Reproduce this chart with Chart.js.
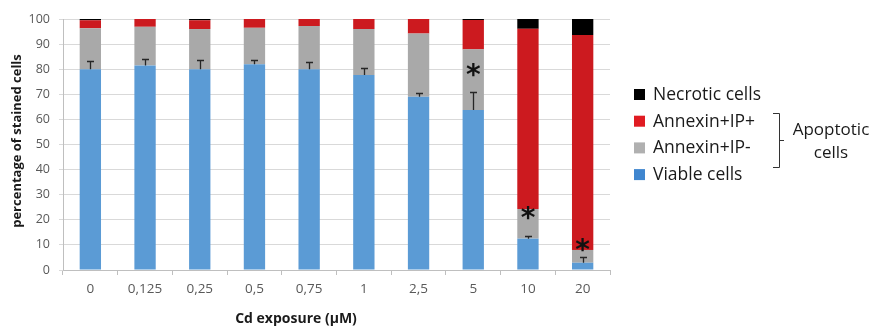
<!DOCTYPE html>
<html>
<head>
  <title>Cd exposure - stained cells</title>
  <script src="https://cdn.jsdelivr.net/npm/chart.js"></script>
  <style>
    body { margin: 0; background: #fff; }
    canvas { display: block; }
  </style>
</head>
<body>
  <canvas id="cellChart" width="873" height="327"></canvas>
  <script>
    // Cd exposure (µM) categories
    const doses = ['0', '0,125', '0,25', '0,5', '0,75', '1', '2,5', '5', '10', '20'];
    // stacked percentages, bottom to top
    const viable     = [80, 81.5, 80, 82, 80, 77.7, 69, 63.7, 12.5, 2.9];
    const annexinNeg = [16.3, 15.4, 16, 14.5, 17.2, 18.3, 25.2, 24.2, 11.8, 5.1];
    const annexinPos = [3.2, 3.1, 3.5, 3.5, 2.8, 4, 5.8, 11.7, 71.8, 85.6];
    const necrotic   = [0.5, 0, 0.5, 0, 0, 0, 0, 0.4, 3.9, 6.4];
    // upper error on viable cells
    const viableErr  = [3.3, 2.7, 3.7, 1.7, 3, 2.9, 1.6, 7.3, 1.2, 2.4];
    // significance stars: category index and height
    const starIdx = [7, 8, 9];
    const starAt  = [77, 20, 7];

    const colors = { viable: '#5b9bd5', neg: '#a9a9a9', pos: '#cc1a1f', nec: '#000000' };

    const extras = {
      id: 'extras',
      afterDatasetsDraw(chart) {
        const { ctx, scales: { x, y } } = chart;
        ctx.save();
        // error bars (upper only)
        ctx.strokeStyle = '#262626';
        ctx.lineWidth = 1.3;
        viable.forEach((v, i) => {
          const px = Math.round(x.getPixelForValue(i)) + 0.5;
          const y0 = y.getPixelForValue(v);
          const y1 = Math.round(y.getPixelForValue(v + viableErr[i])) + 0.5;
          ctx.beginPath();
          ctx.moveTo(px, y0); ctx.lineTo(px, y1);
          ctx.moveTo(px - 3.5, y1); ctx.lineTo(px + 3.5, y1);
          ctx.stroke();
        });
        // asterisks
        ctx.fillStyle = '#111';
        ctx.font = 'bold 28px "DejaVu Sans"';
        ctx.textAlign = 'center';
        ctx.textBaseline = 'alphabetic';
        starIdx.forEach((c, k) => {
          const m = ctx.measureText('*');
          const h = m.actualBoundingBoxAscent - m.actualBoundingBoxDescent;
          const cy = y.getPixelForValue(starAt[k]);
          ctx.fillText('*', x.getPixelForValue(c), cy + m.actualBoundingBoxAscent - h / 2);
        });
        ctx.restore();
      },
      afterDraw(chart) {
        const { ctx } = chart;
        ctx.save();
        // axis titles
        ctx.fillStyle = '#1a1a1a';
        ctx.font = 'bold 13px "Open Sans"';
        ctx.textAlign = 'center';
        ctx.textBaseline = 'middle';
        ctx.translate(17, 141);
        ctx.rotate(-Math.PI / 2);
        ctx.fillText('percentage of stained cells', 0, 0);
        ctx.setTransform(1, 0, 0, 1, 0, 0);
        ctx.font = 'bold 14px "Open Sans"';
        ctx.fillText('Cd exposure (µM)', 296, 319);

        // legend
        const items = [
          ['Necrotic cells', colors.nec],
          ['Annexin+IP+', '#e01b22'],
          ['Annexin+IP-', '#b0b0b0'],
          ['Viable cells', '#3f86cf']
        ];
        ctx.font = '17.5px "Open Sans"';
        ctx.textAlign = 'left';
        items.forEach(([t, col], i) => {
          const cy = 95 + i * 26.7;
          ctx.fillStyle = col;
          ctx.fillRect(634, cy - 6, 11, 11);
          ctx.fillStyle = '#1a1a1a';
          ctx.fillText(t, 653, cy);
        });
        // bracket for apoptotic
        ctx.strokeStyle = '#333';
        ctx.lineWidth = 1;
        ctx.beginPath();
        ctx.moveTo(773, 113.5); ctx.lineTo(779.5, 113.5); ctx.lineTo(779.5, 167.5); ctx.lineTo(773, 167.5);
        ctx.moveTo(779.5, 140.5); ctx.lineTo(784, 140.5);
        ctx.stroke();
        ctx.fillStyle = '#1a1a1a';
        ctx.font = '17px "Open Sans"';
        ctx.textAlign = 'center';
        ctx.fillText('Apoptotic', 831, 130);
        ctx.fillText('cells', 831, 153);
        ctx.restore();
      }
    };

    const ds = (label, data, color) => ({
      label, data, backgroundColor: color, borderWidth: 0,
      barPercentage: 0.39, categoryPercentage: 1
    });

    new Chart(document.getElementById('cellChart'), {
      type: 'bar',
      data: {
        labels: doses,
        datasets: [
          ds('Viable cells', viable, colors.viable),
          ds('Annexin+IP-', annexinNeg, colors.neg),
          ds('Annexin+IP+', annexinPos, colors.pos),
          ds('Necrotic cells', necrotic, colors.nec)
        ]
      },
      options: {
        responsive: false,
        devicePixelRatio: 1,
        animation: false,
        layout: { padding: { top: 19, right: 263, left: 0, bottom: 0 } },
        plugins: { legend: { display: false }, tooltip: { enabled: false } },
        scales: {
          x: {
            stacked: true,
            afterFit(s) { s.height = 57; },
            grid: { drawOnChartArea: false, drawTicks: true, tickLength: 5, color: '#bfbfbf', offset: true },
            border: { color: '#bfbfbf' },
            ticks: { color: '#595959', font: { family: 'Open Sans', size: 13.5 }, padding: 6 }
          },
          y: {
            stacked: true,
            min: 0, max: 100,
            afterFit(s) { s.width = 63; },
            grid: { color: '#d9d9d9', tickLength: 4 },
            border: { color: '#bfbfbf' },
            ticks: { stepSize: 10, color: '#595959', font: { family: 'Open Sans', size: 12.5 }, padding: 9 }
          }
        }
      },
      plugins: [extras]
    });
  </script>
</body>
</html>
